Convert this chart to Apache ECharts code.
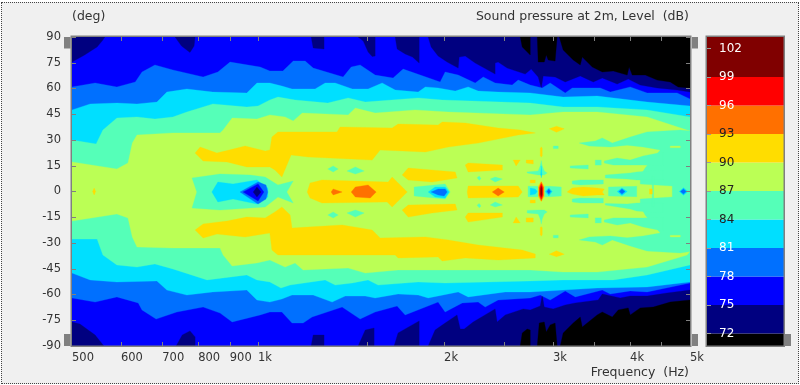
<!DOCTYPE html>
<html><head><meta charset="utf-8">
<style>html,body{margin:0;padding:0;background:#fff;overflow:hidden}
#frame{position:absolute;left:1px;top:2px;width:796px;height:380px;border:1px dotted #444;background:#F0F0F0}
#c{position:absolute;left:0;top:0;width:800px;height:385px}</style>
<script src="https://cdn.jsdelivr.net/npm/echarts@6/dist/echarts.min.js"></script>
</head><body><div id="frame"></div><div id="c"></div>
<script>
const freqTicks=[600,700,800,900,1000,1500,2000,2500,3000,3500,4000,4500];
const freqLabels=[500,600,700,800,900,1000,2000,3000,4000,5000];
const legendLevels=[72,75,78,81,84,87,90,93,96,99,102];
const bandFloors=[70,72,75,78,81,84,87,90,93,96,99];
const bandColors=['#000000','#000080','#0000FF','#0070FF','#00DFFF','#55FFB8','#BBFF55','#FFDD00','#FF7000','#FF0000','#800000'];

const top78=[[500,60.9],[545,63.2],[591,60.9],[633,63.8],[649,69.6],[681,73.7],[728,70.8],[815,66.7],[861,69.6],[901,75.4],[1008,72.5],[1045,70.2],[1097,70.2],[1140,76],[1192,76],[1228,71.9],[1373,66.7],[1415,72.5],[1463,73.7],[1547,67.8],[1654,66.1],[1717,71.3],[1971,63.8],[2008,69.6],[2108,67.8],[2246,63.2],[2314,66.7],[2419,63.2],[2578,62],[2636,64.9],[2757,62],[2883,60.3],[2970,63.2],[3141,57.4],[3224,60.3],[3579,60.3],[3715,57.9],[4002,60.9],[4262,57.4],[4766,57.4],[5000,53.9]];
const bot78=[[500,-62],[545,-64.4],[591,-61.4],[640,-64.9],[649,-69],[684,-74.3],[739,-70.2],[815,-67.3],[868,-70.8],[908,-76],[1008,-71.9],[1045,-70.2],[1093,-70.2],[1135,-76.6],[1183,-76.6],[1223,-73.1],[1368,-67.3],[1463,-74.3],[1547,-70.2],[1679,-66.7],[1730,-71.9],[1956,-64.4],[2008,-70.2],[2140,-64.9],[2271,-64.4],[2331,-67.3],[2446,-63.2],[2757,-62],[2862,-60.3],[2970,-63.2],[3141,-57.9],[3261,-61.4],[3606,-57.4],[3715,-59.7],[4002,-57.9],[4262,-58.5],[5000,-53.3]];
const top81=[[500,47.5],[535,51],[591,51.5],[637,51],[686,52.1],[712,57.9],[767,59.7],[845,57.9],[959,57.4],[996,63.2],[1045,63.2],[1093,61.4],[1135,59.7],[1237,59.7],[1284,63.2],[1333,63.2],[1421,59.7],[1507,59.7],[1588,63.2],[1667,59.1],[1816,57.9],[1865,60.9],[1956,60.3],[2085,58.5],[2188,60.9],[2271,58.5],[2446,57.9],[2757,57.4],[3117,55],[3538,55.6],[4262,52.1],[5000,49.8]];
const bot81=[[500,-47.5],[535,-51.5],[591,-52.7],[686,-52.1],[712,-57.4],[767,-60.3],[845,-58.5],[959,-57.4],[996,-63.2],[1045,-64.4],[1093,-62.6],[1135,-60.3],[1228,-60.3],[1318,-64.4],[1384,-60.9],[1491,-60.9],[1547,-62],[1685,-59.7],[1816,-60.3],[1885,-62],[2108,-58.5],[2188,-61.4],[2512,-58.5],[2757,-58.5],[3117,-57.4],[3538,-56.2],[4262,-55.6],[5000,-52.7]];
const top84=[[500,30],[547,27.7],[561,35.8],[591,42.8],[637,43.4],[681,42.2],[728,43.4],[767,46.3],[845,51],[959,49.2],[1000,49.8],[1045,53.3],[1077,55],[1148,53.3],[1297,51.5],[1399,54.5],[1491,52.1],[1816,54.5],[1986,53.3],[2757,51.5],[3117,49.2],[3538,49.2],[4262,47.5],[5000,43.4]];
const bot84=[[500,-27.7],[549,-27.7],[561,-37],[591,-42.8],[637,-44],[681,-42.2],[728,-45.1],[827,-51.5],[959,-48.6],[996,-51.5],[1045,-52.7],[1089,-56.2],[1127,-54.5],[1284,-51.5],[1333,-54.5],[1421,-53.3],[1507,-51.5],[1564,-54.5],[1816,-52.7],[2008,-53.3],[2757,-52.1],[3117,-51.5],[3757,-51.5],[4262,-48.6],[5000,-42.8]];
const top87=[[500,17.2],[591,13.1],[616,16.6],[626,28.2],[637,32.9],[728,34.1],[868,34.1],[878,35.8],[908,42.8],[996,42.2],[1045,44.6],[1106,43.4],[1140,41.1],[1179,45.7],[1399,44.6],[1437,48.6],[1547,45.7],[1796,47.5],[2031,46.3],[2757,44.6],[3117,46.3],[3538,46.3],[4262,43.4],[5000,35.2]];
const bot87=[[500,-17.2],[591,-13.1],[616,-15.4],[626,-26.5],[637,-32.3],[728,-32.9],[868,-32.9],[878,-37],[908,-43.4],[996,-41.6],[1045,-39.9],[1106,-44],[1148,-41.6],[1183,-45.7],[1399,-44.6],[1491,-47.5],[1685,-45.7],[2031,-45.7],[2757,-45.7],[3117,-46.9],[3538,-46.9],[4262,-44],[4947,-37],[5000,-35]];

const wholeField=[[500,90],[5000,90],[5000,-90],[500,-90]];
const navyPatches=[
[[500,90],[500,75.4],[524,79.5],[549,84.2],[561,88.2],[565,90]],
[[734,90],[752,84.7],[776,81],[788,84.7],[791,90]],
[[1219,90],[1228,83.6],[1279,83],[1279,90]],
[[1452,90],[1480,87.6],[1507,81.2],[1530,78.6],[1547,78.9],[1547,90]],
[[1667,90],[1679,83],[1730,80.1],[1778,78.3],[1823,74.8],[1823,90]],
[[1885,90],[1906,84.2],[1956,78.9],[2023,75.4],[2108,71.9],[2116,78.3],[2164,78.9],[2246,74.8],[2419,68.4],[2419,74.8],[2446,75.4],[2530,71.9],[2706,68.4],[2767,71.3],[2840,66.7],[2873,60.3],[2894,67.3],[3025,66.7],[3141,63.8],[3322,67.3],[3487,63.8],[3606,66.1],[3812,62.6],[3972,65.5],[4154,62],[4425,60.3],[4766,59.1],[5000,57.9],[5000,90]],
[[500,-76],[515,-77.2],[545,-83.6],[563,-90],[500,-90]],
[[737,-90],[754,-83.6],[776,-81.2],[791,-84.7],[791,-90]],
[[1219,-90],[1228,-83.6],[1279,-83.6],[1279,-90]],
[[1452,-90],[1491,-80.7],[1541,-79.5],[1541,-90]],
[[1660,-90],[1685,-82.4],[1823,-75.4],[1823,-90]],
[[1885,-90],[1934,-80.7],[2008,-76.6],[2099,-71.9],[2124,-80.1],[2156,-80.1],[2229,-76],[2419,-68.4],[2437,-76],[2512,-71.9],[2686,-68.4],[2757,-69],[2862,-66.7],[2883,-60.3],[2905,-67.3],[3003,-68.4],[3141,-66.1],[3261,-64.9],[3551,-63.2],[3606,-59.7],[3856,-62],[4002,-60.9],[4262,-60.9],[4590,-59.1],[5000,-57.4],[5000,-90]]
];
const blackPatches=[
[[2656,90],[2676,84.2],[2757,79.5],[2757,90]],
[[2830,90],[2840,75.4],[2905,75.4],[2927,79.5],[2948,76.6],[3025,76],[3048,90]],
[[3072,90],[3117,82.4],[3236,76.6],[3322,73.7],[3347,78.3],[3474,72.5],[3606,69.6],[3757,70.2],[3957,67.8],[3985,72.5],[4032,67.8],[4233,67.8],[4424,64.9],[4645,63.8],[4784,60.9],[5000,60.3],[5000,90]],
[[2656,-90],[2676,-82.4],[2726,-80.1],[2757,-80.7],[2757,-90]],
[[2830,-90],[2851,-76.6],[2905,-76],[2927,-81.8],[2970,-77.7],[3025,-76.6],[3048,-90]],
[[3083,-90],[3117,-82.4],[3236,-76.6],[3322,-73.1],[3347,-78.9],[3538,-71.9],[3606,-70.2],[3743,-73.1],[3827,-69],[3972,-67.8],[4002,-71.9],[4154,-67.8],[4360,-67.3],[4645,-64.4],[5000,-63.2],[5000,-90]]
];
const aquaPatches=[
[[782,7.9],[868,10.2],[971,9.6],[1027,8.4],[1077,3.8],[1140,6.1],[1113,-.3],[1140,-6.7],[1077,-3.2],[1027,-9],[971,-9.6],[868,-10.8],[782,-9.6],[796,-.3]],
[[1297,13.1],[1323,14.9],[1348,13.1],[1323,11.4]],
[[1297,-13.7],[1323,-11.9],[1348,-13.7],[1323,-15.4]],
[[1393,11.9],[1437,14.3],[1485,11.9],[1437,10.2]],
[[1393,-12.5],[1437,-10.8],[1485,-12.5],[1437,-14.9]],
[[1789,2.6],[2008,4.4],[2046,-.3],[2008,-4.4],[1789,-2.6]],
[[2375,7.3],[2419,8.4],[2485,7.3],[2419,5.5]],
[[2375,-7.9],[2419,-6.1],[2485,-7.9],[2419,-9]],
[[2262,8],[2280,9],[2295,7.5],[2280,6.5]],
[[2262,-8],[2280,-7],[2295,-8.5],[2280,-9.5]],
[[2726,11.4],[2840,11.9],[2862,15],[2873,18],[2883,15],[2905,11.9],[2937,10.8],[2905,9.6],[2840,9.6],[2726,10.8]],
[[2726,-11],[2840,-10.8],[2905,-10.8],[2937,-11.9],[2905,-13.1],[2883,-16],[2873,-19],[2862,-16],[2840,-13.1],[2726,-12.5]],
[[2735,3],[2840,3],[2970,3],[3095,2.6],[3095,-2.6],[2970,-3],[2735,-3]],
[[3005,26.5],[3060,26.5],[3060,25],[3005,25]],
[[3005,-25.5],[3060,-25.5],[3060,-27],[3005,-27]],
[[3310,28.2],[3513,29.4],[3606,31.2],[3743,28.2],[4002,31.7],[4262,34.7],[4822,35.8],[5000,35.2],[5000,-35],[4822,-35.8],[4262,-34.7],[4002,-31.7],[3743,-28.2],[3606,-31.2],[3513,-29.4],[3310,-28.2],[3435,-26.5],[3715,-25.9],[3957,-27],[4200,-25.9],[4476,-24.2],[4230,-13.7],[4154,-8.4],[4154,-4.4],[4680,-3.2],[4680,3.2],[4154,4.4],[4154,9],[4230,13.7],[4476,24.2],[4200,25.9],[3957,27],[3715,25.9],[3435,26.5]],
[[3633,17.8],[3812,19.5],[4002,18.3],[4200,20.7],[4526,23],[4526,14.9],[4200,15.4],[4002,15.4],[3757,15.4],[3633,16.6]],
[[3633,-16.6],[3757,-15.4],[4002,-15.4],[4200,-15.4],[4526,-14.9],[4526,-23],[4200,-20.7],[4002,-18.3],[3812,-19.5],[3633,-17.8]],
[[3513,18.3],[3592,18.3],[3592,15.4],[3513,15.4]],
[[3513,-15.4],[3592,-15.4],[3592,-18.3],[3513,-18.3]],
[[3200,14.9],[3422,15.4],[3422,13.1],[3200,13.7]],
[[3200,-13.7],[3422,-13.1],[3422,-15.4],[3200,-14.9]],
[[3647,9.6],[4002,10.8],[4100,11.4],[4526,12.5],[4526,6.7],[4100,6.7],[3957,7.3],[3647,7.9]],
[[3647,-7.9],[4002,-10.2],[4100,-11.4],[4526,-12.5],[4526,-6.7],[4100,-6.7],[3957,-7.3],[3647,-7]],
[[3224,6.1],[3322,6.7],[3620,6.7],[3620,4.4],[3322,3.8],[3224,4.4]],
[[3224,-4.4],[3322,-3.8],[3620,-4],[3620,-6.7],[3322,-6.7],[3224,-6.1]],
[[3690,2.6],[4100,3],[4100,-3],[3690,-2.6]],
[[4345,9],[4365,9],[4365,-9],[4345,-9]]
];
const limeTraces=[
[[4645,26.5],[4822,26.5],[4822,25.5],[4645,25.5]],
[[4645,-25.5],[4822,-25.5],[4822,-26.5],[4645,-26.5]]
];
const cyanPatches=[
[[842,-.3],[861,5.5],[911,4.4],[996,6.7],[1037,2],[1037,-3.2],[996,-7.3],[911,-4.4],[861,-6.1]],
[[1885,-.3],[1934,2.6],[2008,2.6],[2038,-.3],[2008,-3.8],[1934,-3.2]],
[[2757,2],[2809,1.5],[2830,0],[2809,-1.5],[2757,-2]],
[[2916,0],[2955,2.2],[2992,0],[2955,-2.6]],
[[3812,0],[3880,2],[3957,0],[3880,-2.3]],
[[4804,0],[4880,2.2],[4960,0],[4880,-2.2]],
[[2873,15],[2880,10],[2873,8],[2866,10]]
];
const azurePatches=[
[[935,-.3],[1000,5.5],[1030,3.8],[1037,-.3],[1030,-4.4],[1000,-7.3]],
[[1906,-.3],[1956,1.5],[2008,1.5],[2023,-.3],[2000,-2.6],[1956,-2]],
[[2935,0],[2955,1.5],[2975,0],[2955,-1.5]],
[[3840,0],[3880,1.5],[3925,0],[3880,-1.5]],
[[4825,0],[4880,1.5],[4930,0],[4880,-1.5]]
];
const bluePatches=[[[946,-.3],[1000,4.4],[1022,-.3],[1000,-5.5]]];
const deepPatches=[[[982,-.3],[996,2.6],[1011,-.3],[996,-3.2]]];
const yellowPatches=[
[[791,22.4],[806,25.9],[858,22.4],[953,26.5],[1027,23.6],[1045,24.2],[1053,31.7],[1077,34.7],[1342,34.7],[1358,37.6],[1648,37],[1685,39.3],[1956,38.7],[1986,40.5],[2164,39.9],[2446,37],[2656,35.8],[2809,34.1],[2636,32.9],[2271,28.2],[2031,25.9],[1865,23],[1576,24.2],[1530,18.3],[1205,20.1],[1131,21.3],[1093,8.4],[1065,12.5],[1045,14.3],[959,14.3],[891,17.2],[815,17.8]],
[[791,-22.4],[815,-18.9],[891,-17.2],[959,-14.9],[1027,-15.4],[1065,-11.9],[1093,-9],[1127,-13.7],[1135,-21.3],[1205,-20.7],[1368,-19.5],[1530,-22.4],[1576,-27.1],[1865,-26.5],[2031,-28.2],[2271,-31.2],[2676,-34.1],[2809,-36.4],[2809,-38.7],[2446,-39.9],[2164,-38.7],[1986,-40.5],[1956,-38.1],[1685,-38.7],[1667,-37],[1358,-37],[1077,-37],[1053,-34.1],[1045,-24.2],[953,-26.5],[858,-24.8],[815,-27.1]],
[[540,0],[543,2],[546,0],[543,-2]],
[[1201,-.3],[1214,5],[1269,6.7],[1624,5.5],[1648,8.4],[1743,-.3],[1648,-9],[1618,-6.1],[1269,-6.7],[1214,-3.8]],
[[1711,9.6],[1750,13.7],[2085,11.4],[2099,7.9],[1913,5.5],[1750,6.7]],
[[1711,-10.8],[1750,-7.9],[2085,-7.3],[2099,-10.8],[1913,-12.5],[1750,-14.9]],
[[2180,-.3],[2188,3.2],[2636,3.2],[2676,-.3],[2636,-3.2],[2188,-3.8]],
[[2164,15.4],[2188,16.6],[2485,15.4],[2485,12.5],[2188,11.4]],
[[2164,-14.9],[2188,-12.5],[2485,-12.5],[2485,-14.9],[2188,-17.8]],
[[2587,18.3],[2656,18.3],[2616,14.9]],
[[2587,-18.3],[2616,-14.9],[2656,-18.3]],
[[2716,18.3],[2788,18.3],[2788,16],[2716,16.6]],
[[2716,-17.8],[2788,-17.8],[2788,-15.4],[2716,-15.4]],
[[2757,6.7],[2809,6.7],[2809,5],[2757,5]],
[[2757,-5],[2809,-5],[2809,-6.7],[2757,-6.7]],
[[2862,25],[2873,26],[2883,25],[2883,21],[2873,20],[2862,21]],
[[2862,-21],[2873,-20.5],[2883,-21],[2883,-25],[2873,-26],[2862,-25]],
[[2960,36.5],[3040,38],[3130,36.5],[3040,34.5]],
[[2960,-36.5],[3040,-34.5],[3130,-36.5],[3040,-38]],
[[3163,-.3],[3224,2],[3359,2.6],[3538,2],[3633,1.5],[3606,-.3],[3633,-2],[3538,-2],[3359,-2.6],[3224,-1.5]],
[[4300,1.5],[4345,1.5],[4345,-1.5],[4300,-1.5]],
[[2840,3],[2873,6],[2905,3],[2905,-3],[2873,-6],[2840,-3]]
];
const orangePatches=[
[[1313,-.3],[1323,1.5],[1368,-.3],[1323,-2]],
[[1415,-.3],[1437,2.6],[1507,3.8],[1553,-.3],[1519,-3.8],[1437,-3.2]],
[[2393,-.3],[2446,2],[2503,-.3],[2446,-2.6]],
[[2848,2.5],[2873,5.5],[2898,2.5],[2898,-2.5],[2873,-5.5],[2848,-2.5]]
];
const redPatches=[[[2856,2],[2873,4.5],[2890,2],[2890,-2],[2873,-4.5],[2856,-2]]];
const darkRedPatches=[[[2866,1.5],[2873,3],[2880,1.5],[2880,-1.5],[2873,-3],[2866,-1.5]]];

const band=(a,b)=>a.concat(b.slice().reverse());
const layers=[[75,[wholeField]],[72,navyPatches],[70,blackPatches],
 [78,[band(top78,bot78)]],[81,[band(top81,bot81)]],[84,[band(top84,bot84)]],[87,[band(top87,bot87)]],
 [84,aquaPatches],[87,limeTraces],[81,cyanPatches],[78,azurePatches],[75,bluePatches],[72,deepPatches],
 [90,yellowPatches],[93,orangePatches],[96,redPatches],[99,darkRedPatches]];
const colorOf=l=>bandColors[bandFloors.indexOf(l)];
const series=[];
layers.forEach(([lvl,polys])=>polys.forEach(pts=>{
 series.push({type:'custom',coordinateSystem:'cartesian2d',xAxisIndex:0,yAxisIndex:0,silent:true,clip:true,
  data:pts,encode:{x:0,y:1},animation:false,
  renderItem:(p,api)=>{ if(p.dataIndex!==0) return;
   return {type:'polygon',shape:{points:pts.map(q=>api.coord(q))},style:{fill:colorOf(lvl),stroke:colorOf(lvl),lineWidth:0.3}};}});
}));
series.push({type:'custom',coordinateSystem:'cartesian2d',xAxisIndex:2,yAxisIndex:2,silent:true,clip:true,animation:false,
 data:bandFloors.map((f,i)=>[i,f]),encode:{x:0,y:1},
 renderItem:(p,api)=>{const i=api.value(0),f=api.value(1);
  const hi=i<bandFloors.length-1?bandFloors[i+1]:104;
  const a=api.coord([0,hi]),b=api.coord([10,f]);
  return {type:'rect',shape:{x:a[0],y:a[1],width:b[0]-a[0],height:b[1]-a[1]},style:{fill:bandColors[i]}};}});

const font='"DejaVu Sans"';
const txt='#333';
const box=(x,y,w,h)=>({type:'rect',z:50,shape:{x,y,width:w,height:h},style:{fill:'#808080'},silent:true});
const frame=(x,y,w,h)=>({type:'rect',z:50,shape:{x,y,width:w,height:h},style:{fill:'none',stroke:'#808080',lineWidth:1.5},silent:true});
const label=(t,x,y,align)=>({type:'text',z:50,x,y,style:{text:t,font:'12.5px '+font,fill:txt,textAlign:align||'left',textVerticalAlign:'middle'},silent:true});
const tickLine={show:true,lineStyle:{color:'#808080'},inside:true,length:4};
const noLine={show:false,onZero:false};
const chart=echarts.init(document.getElementById('c'),null,{renderer:'canvas',width:800,height:385});
chart.setOption({animation:false,backgroundColor:'transparent',
 grid:[{left:72,top:37,width:618,height:309},{left:707,top:37,width:77,height:309}],
 xAxis:[
  {type:'log',logBase:10,gridIndex:0,min:500,max:5000,position:'bottom',z:20,axisLine:noLine,splitLine:{show:false},minorTick:{show:false},
   axisTick:Object.assign({customValues:freqTicks},tickLine),
   axisLabel:{customValues:freqLabels,align:'left',margin:6,showMinLabel:true,showMaxLabel:true,hideOverlap:false,fontFamily:font,fontSize:11.5,color:txt,formatter:v=>v>=1000?(v/1000)+'k':String(v)}},
  {type:'log',logBase:10,gridIndex:0,min:500,max:5000,position:'top',z:20,axisLine:noLine,splitLine:{show:false},
   axisTick:Object.assign({customValues:freqTicks},tickLine),axisLabel:{show:false}},
  {type:'value',gridIndex:1,min:0,max:10,show:false}
 ],
 yAxis:[
  {type:'value',gridIndex:0,min:-90,max:90,interval:15,position:'left',z:20,axisLine:noLine,splitLine:{show:false},axisTick:tickLine,
   axisLabel:{margin:11,fontFamily:font,fontSize:11.5,color:txt}},
  {type:'value',gridIndex:0,min:-90,max:90,interval:15,position:'right',z:20,axisLine:noLine,splitLine:{show:false},axisTick:tickLine,axisLabel:{show:false}},
  {type:'value',gridIndex:1,min:70.68,max:103.21,position:'left',z:20,axisLine:noLine,splitLine:{show:false},
   axisTick:{show:true,inside:true,length:4,customValues:legendLevels,lineStyle:{color:'#9a9a9a'}},
   axisLabel:{inside:true,margin:12,customValues:legendLevels,align:'left',fontFamily:font,fontSize:12,color:v=>(v>=84&&v<=93)?'#222':'#fff'}}
 ],
 graphic:[
  frame(71.25,36.25,619.5,310),frame(706.25,36.25,78,310),
  box(64,37,6.5,11.5),box(64,334,6.5,12),box(692,37,6,11.5),box(692,334,6,12),box(785,334,6,12),
  label('(deg)',72,17),
  label('Sound pressure at 2m, Level  (dB)',689,17,'right'),
  label('Frequency  (Hz)',689,373,'right')
 ],
 series});
</script></body></html>
